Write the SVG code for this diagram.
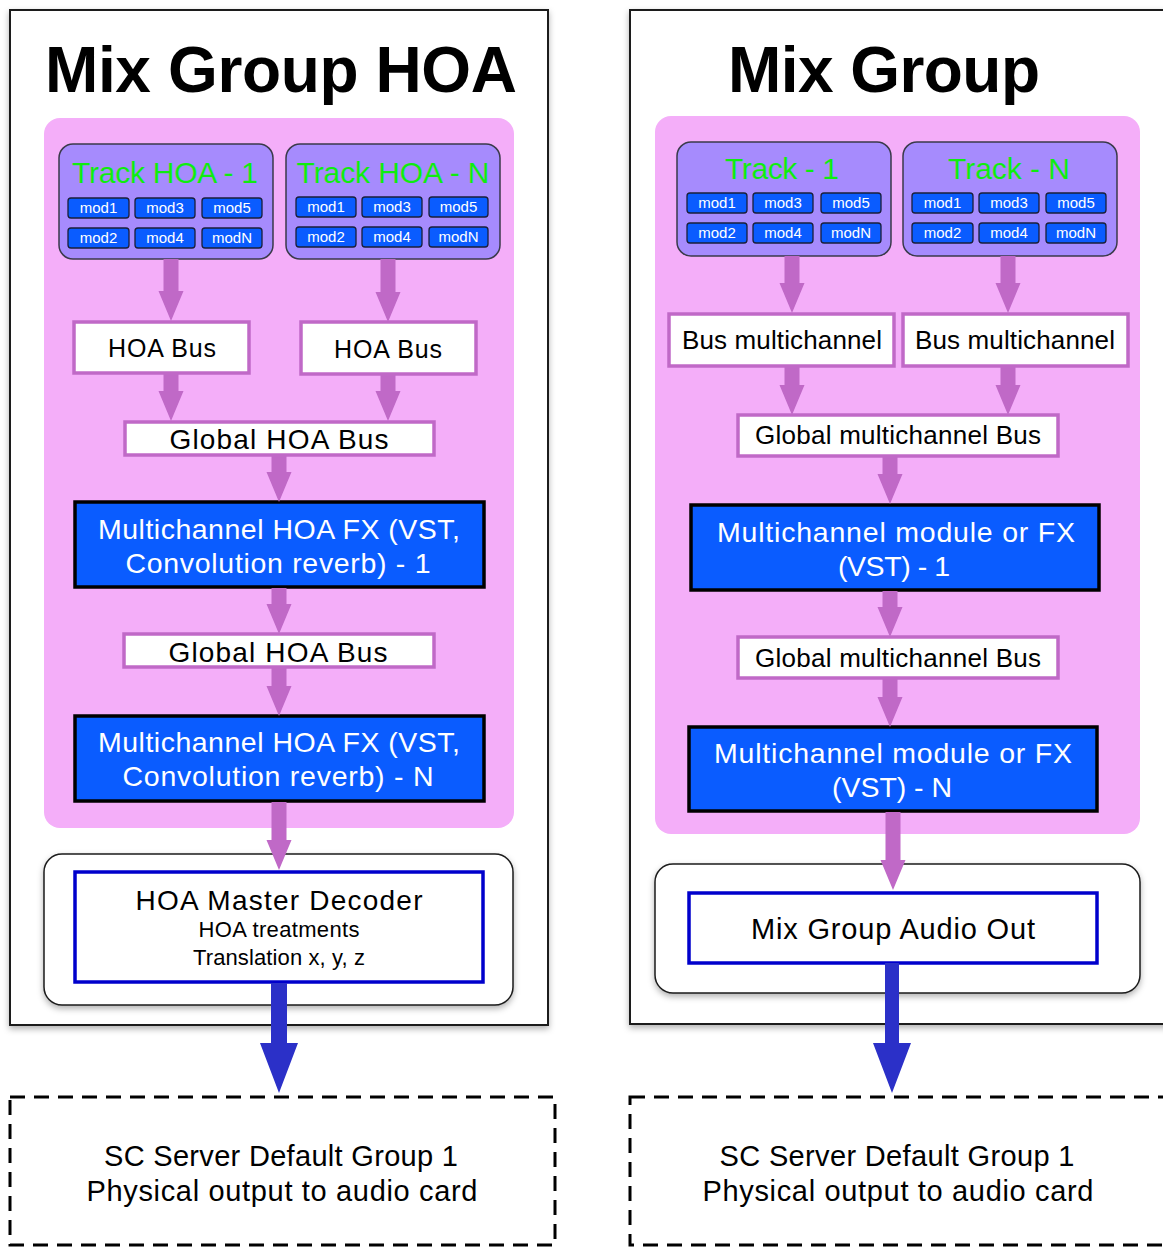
<svg xmlns="http://www.w3.org/2000/svg" width="1163" height="1248" viewBox="0 0 1163 1248">
<style>
text{font-family:"Liberation Sans",Arial,Helvetica,sans-serif;text-anchor:middle}
.title{font-size:64px;font-weight:bold;fill:#000}
.panel{fill:#fff;stroke:#1a1a1a;stroke-width:2}
.pinkbg{fill:#f4aef9}
.track{fill:#a68bfd;stroke:#3a3a4a;stroke-width:1.5}
.ttl{font-size:30px;fill:#10ec10}
.mod{fill:#0a5cff;stroke:#1a1f3a;stroke-width:1.3}
.modt{font-size:15px;fill:#fff}
.bus{fill:#fff;stroke:#c069c7;stroke-width:3.5}
.bust{fill:#000}
.fx{fill:#0a5cff;stroke:#000;stroke-width:3.5}
.fxt{font-size:28.5px;fill:#fff}
.outer{fill:#fff;stroke:#1a1a1a;stroke-width:1.5}
.inner{fill:#fff;stroke:#0000cc;stroke-width:3.5}
.blk{fill:#000}
.dash{fill:none;stroke:#000;stroke-width:3;stroke-dasharray:15 9}
.pa{fill:#c069c7}
.ba{fill:#2b30c8}
</style>
<defs>
<filter id="sh" x="-10%" y="-10%" width="120%" height="120%">
<feDropShadow dx="0" dy="3" stdDeviation="3" flood-color="#000" flood-opacity="0.3"/>
</filter>
</defs>

<g id="panel-hoa">
<rect class="panel" x="10" y="10" width="538" height="1015" filter="url(#sh)"/>
<text class="title" x="281" y="92" textLength="472">Mix Group HOA</text>
<rect class="pinkbg" x="44" y="118" width="470" height="710" rx="16"/>
</g>
<g id="panel-mix">
<rect class="panel" x="630" y="10" width="560" height="1014" filter="url(#sh)"/>
<text class="title" x="884" y="92" textLength="312">Mix Group</text>
<rect class="pinkbg" x="655" y="116" width="485" height="718" rx="16"/>
</g>

<g id="track-hoa-1">
<rect class="track" x="59" y="144" width="214" height="115" rx="14"/>
<text class="ttl" x="165" y="183" textLength="186">Track HOA - 1</text>
<rect class="mod" x="68" y="198" width="61" height="20" rx="3"/><text class="modt" x="98.5" y="213">mod1</text>
<rect class="mod" x="135" y="198" width="60" height="20" rx="3"/><text class="modt" x="165" y="213">mod3</text>
<rect class="mod" x="202" y="198" width="60" height="20" rx="3"/><text class="modt" x="232" y="213">mod5</text>
<rect class="mod" x="68" y="228" width="61" height="20" rx="3"/><text class="modt" x="98.5" y="243">mod2</text>
<rect class="mod" x="135" y="228" width="60" height="20" rx="3"/><text class="modt" x="165" y="243">mod4</text>
<rect class="mod" x="202" y="228" width="60" height="20" rx="3"/><text class="modt" x="232" y="243">modN</text>
</g>
<g id="track-hoa-n">
<rect class="track" x="286" y="144" width="214" height="115" rx="14"/>
<text class="ttl" x="393" y="183" textLength="193">Track HOA - N</text>
<rect class="mod" x="296" y="197" width="60" height="20" rx="3"/><text class="modt" x="326" y="212">mod1</text>
<rect class="mod" x="362" y="197" width="60" height="20" rx="3"/><text class="modt" x="392" y="212">mod3</text>
<rect class="mod" x="429" y="197" width="59" height="20" rx="3"/><text class="modt" x="458.5" y="212">mod5</text>
<rect class="mod" x="296" y="227" width="60" height="20" rx="3"/><text class="modt" x="326" y="242">mod2</text>
<rect class="mod" x="362" y="227" width="60" height="20" rx="3"/><text class="modt" x="392" y="242">mod4</text>
<rect class="mod" x="429" y="227" width="59" height="20" rx="3"/><text class="modt" x="458.5" y="242">modN</text>
</g>
<g id="hoa-bus-1">
<rect class="bus" x="74" y="322" width="175" height="51"/>
<text class="bust" x="162" y="357" style="font-size:25px" textLength="108">HOA Bus</text>
</g>
<g id="hoa-bus-n">
<rect class="bus" x="301" y="322" width="175" height="52"/>
<text class="bust" x="388" y="358" style="font-size:25px" textLength="108">HOA Bus</text>
</g>
<g id="global-hoa-bus-1">
<rect class="bus" x="125" y="422" width="309" height="33"/>
<text class="bust" x="279" y="449" style="font-size:28px" textLength="219">Global HOA Bus</text>
</g>
<g id="hoa-fx-1">
<rect class="fx" x="75" y="502" width="409" height="85"/>
<text class="fxt" x="279" y="539" textLength="362">Multichannel HOA FX (VST,</text>
<text class="fxt" x="278" y="573" textLength="305">Convolution reverb) - 1</text>
</g>
<g id="global-hoa-bus-2">
<rect class="bus" x="124" y="634" width="310" height="33"/>
<text class="bust" x="278" y="662" style="font-size:28px" textLength="219">Global HOA Bus</text>
</g>
<g id="hoa-fx-n">
<rect class="fx" x="75" y="716" width="409" height="85"/>
<text class="fxt" x="279" y="752" textLength="362">Multichannel HOA FX (VST,</text>
<text class="fxt" x="278" y="786" textLength="311">Convolution reverb) - N</text>
</g>
<g id="hoa-master-decoder">
<rect class="outer" x="44" y="854" width="469" height="151" rx="18" filter="url(#sh)"/>
<rect class="inner" x="75" y="872" width="408" height="110"/>
<text class="blk" x="279" y="910" style="font-size:28px" textLength="287">HOA Master Decoder</text>
<text class="blk" x="279" y="937" style="font-size:22px" textLength="161">HOA treatments</text>
<text class="blk" x="279" y="965" style="font-size:22px" textLength="172">Translation x, y, z</text>
</g>
<g id="sc-server-left">
<rect class="dash" x="10" y="1097" width="545" height="148"/>
<text class="blk" x="281" y="1166" style="font-size:29px" textLength="354">SC Server Default Group 1</text>
<text class="blk" x="282" y="1201" style="font-size:29px" textLength="391">Physical output to audio card</text>
</g>

<g id="track-1">
<rect class="track" x="677" y="142" width="214" height="114" rx="14"/>
<text class="ttl" x="782" y="179" textLength="114">Track - 1</text>
<rect class="mod" x="687" y="193" width="60" height="20" rx="3"/><text class="modt" x="717" y="208">mod1</text>
<rect class="mod" x="753" y="193" width="60" height="20" rx="3"/><text class="modt" x="783" y="208">mod3</text>
<rect class="mod" x="821" y="193" width="60" height="20" rx="3"/><text class="modt" x="851" y="208">mod5</text>
<rect class="mod" x="687" y="223" width="60" height="20" rx="3"/><text class="modt" x="717" y="238">mod2</text>
<rect class="mod" x="753" y="223" width="60" height="20" rx="3"/><text class="modt" x="783" y="238">mod4</text>
<rect class="mod" x="821" y="223" width="60" height="20" rx="3"/><text class="modt" x="851" y="238">modN</text>
</g>
<g id="track-n">
<rect class="track" x="903" y="142" width="214" height="114" rx="14"/>
<text class="ttl" x="1009" y="179" textLength="122">Track - N</text>
<rect class="mod" x="912" y="193" width="61" height="20" rx="3"/><text class="modt" x="942.5" y="208">mod1</text>
<rect class="mod" x="979" y="193" width="60" height="20" rx="3"/><text class="modt" x="1009" y="208">mod3</text>
<rect class="mod" x="1046" y="193" width="60" height="20" rx="3"/><text class="modt" x="1076" y="208">mod5</text>
<rect class="mod" x="912" y="223" width="61" height="20" rx="3"/><text class="modt" x="942.5" y="238">mod2</text>
<rect class="mod" x="979" y="223" width="60" height="20" rx="3"/><text class="modt" x="1009" y="238">mod4</text>
<rect class="mod" x="1046" y="223" width="60" height="20" rx="3"/><text class="modt" x="1076" y="238">modN</text>
</g>
<g id="bus-multi-1">
<rect class="bus" x="669" y="314" width="225" height="52"/>
<text class="bust" x="782" y="349" style="font-size:26px" textLength="200">Bus multichannel</text>
</g>
<g id="bus-multi-n">
<rect class="bus" x="903" y="314" width="225" height="52"/>
<text class="bust" x="1015" y="349" style="font-size:26px" textLength="200">Bus multichannel</text>
</g>
<g id="global-multi-bus-1">
<rect class="bus" x="738" y="415" width="320" height="41"/>
<text class="bust" x="898" y="444" style="font-size:26px" textLength="286">Global multichannel Bus</text>
</g>
<g id="multi-fx-1">
<rect class="fx" x="691" y="505" width="408" height="85"/>
<text class="fxt" x="896" y="542" textLength="358">Multichannel module or FX</text>
<text class="fxt" x="894" y="576" textLength="112">(VST) - 1</text>
</g>
<g id="global-multi-bus-2">
<rect class="bus" x="738" y="637" width="320" height="41"/>
<text class="bust" x="898" y="667" style="font-size:26px" textLength="286">Global multichannel Bus</text>
</g>
<g id="multi-fx-n">
<rect class="fx" x="689" y="727" width="408" height="84"/>
<text class="fxt" x="893" y="763" textLength="358">Multichannel module or FX</text>
<text class="fxt" x="892" y="797" textLength="120">(VST) - N</text>
</g>
<g id="mix-group-audio-out">
<rect class="outer" x="655" y="864" width="485" height="129" rx="18" filter="url(#sh)"/>
<rect class="inner" x="689" y="893" width="408" height="70"/>
<text class="blk" x="893" y="939" style="font-size:29px" textLength="284">Mix Group Audio Out</text>
</g>
<g id="sc-server-right">
<rect class="dash" x="630" y="1097" width="600" height="148"/>
<text class="blk" x="897" y="1166" style="font-size:29px" textLength="355">SC Server Default Group 1</text>
<text class="blk" x="898" y="1201" style="font-size:29px" textLength="391">Physical output to audio card</text>
</g>

<g id="connectors">
<polygon class="pa" points="163.5,259 178.5,259 178.5,291 183.5,291 171,321 158.5,291 163.5,291"/>
<polygon class="pa" points="380.5,259 395.5,259 395.5,292 400.5,292 388,322 375.5,292 380.5,292"/>
<polygon class="pa" points="163.5,373 178.5,373 178.5,391 183.5,391 171,421 158.5,391 163.5,391"/>
<polygon class="pa" points="380.5,374 395.5,374 395.5,391 400.5,391 388,421 375.5,391 380.5,391"/>
<polygon class="pa" points="271.5,456 286.5,456 286.5,472 291.5,472 279,502 266.5,472 271.5,472"/>
<polygon class="pa" points="271.5,588 286.5,588 286.5,604 291.5,604 279,634 266.5,604 271.5,604"/>
<polygon class="pa" points="271.5,668 286.5,668 286.5,686 291.5,686 279,716 266.5,686 271.5,686"/>
<polygon class="pa" points="271.5,802 286.5,802 286.5,840 291.5,840 279,870 266.5,840 271.5,840"/>
<polygon class="ba" points="271,983 287,983 287,1043 298,1043 279,1093 260,1043 271,1043"/>

<polygon class="pa" points="784.5,256 799.5,256 799.5,283 804.5,283 792,313 779.5,283 784.5,283"/>
<polygon class="pa" points="1000.5,256 1015.5,256 1015.5,283 1020.5,283 1008,313 995.5,283 1000.5,283"/>
<polygon class="pa" points="784.5,367 799.5,367 799.5,385 804.5,385 792,415 779.5,385 784.5,385"/>
<polygon class="pa" points="1000.5,367 1015.5,367 1015.5,385 1020.5,385 1008,415 995.5,385 1000.5,385"/>
<polygon class="pa" points="882.5,457 897.5,457 897.5,474 902.5,474 890,504 877.5,474 882.5,474"/>
<polygon class="pa" points="882.5,591 897.5,591 897.5,607 902.5,607 890,637 877.5,607 882.5,607"/>
<polygon class="pa" points="882.5,679 897.5,679 897.5,697 902.5,697 890,727 877.5,697 882.5,697"/>
<polygon class="pa" points="885.5,812 900.5,812 900.5,860 905.5,860 893,890 880.5,860 885.5,860"/>
<polygon class="ba" points="885,963 899,963 899,1043 911,1043 892,1093 873,1043 885,1043"/>
</g>
</svg>
